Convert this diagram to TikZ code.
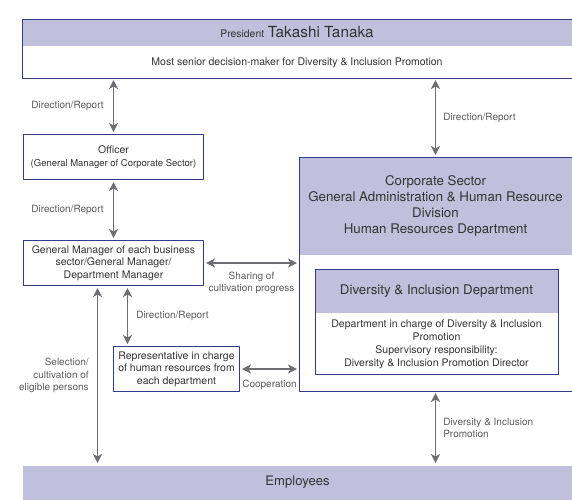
\documentclass[tikz,border=0pt]{standalone}
\usepackage{fontspec}
\setmainfont{TeX Gyre Heros}
\usetikzlibrary{arrows.meta,calc,positioning}
\definecolor{band}{HTML}{C0C0DC}
\definecolor{frame}{HTML}{2F3D8E}
\definecolor{arrowgray}{HTML}{6E6E72}
\definecolor{txt}{HTML}{333333}
\definecolor{lbltxt}{HTML}{5A5A5A}
\tikzset{
  box/.style={draw=frame, line width=1pt, fill=white, inner sep=0pt, anchor=north west,
    text=txt, font=\fontsize{10.5}{12.5}\selectfont, align=center},
  bandtext/.style={text=txt, font=\fontsize{13.3}{15.7}\selectfont, align=center, inner sep=0pt},
  lbl/.style={text=lbltxt, font=\fontsize{10}{12.5}\selectfont, inner sep=0pt},
  arr/.style={draw=arrowgray, line width=1.6pt,
    {Stealth[length=9pt,width=9pt,inset=2.5pt]}-{Stealth[length=9pt,width=9pt,inset=2.5pt]},
    shorten <=2pt, shorten >=2pt},
}
\begin{document}
\begin{tikzpicture}[x=1pt, y=-1pt, line join=round]
  \useasboundingbox (0,0) rectangle (572,499);
  % president
  \node[box, draw=none, minimum width=549pt, minimum height=58pt] (pres) at (22,19) {};
  \fill[band] (pres.north west) rectangle ($(pres.north east)+(0,27)$);
  \draw[frame, line width=1pt] (pres.north west) rectangle (pres.south east);
  \node[bandtext] (prestitle) at ($(pres.north)+(0,13.5)$)
    {{\fontsize{10.4}{12}\selectfont President} {\fontsize{15.3}{18}\selectfont Takashi Tanaka}};
  \node[bandtext, font=\fontsize{10.5}{12}\selectfont] (presnote) at ($(pres.south)+(0,-15.5)$)
    {Most senior decision-maker for Diversity \& Inclusion Promotion};
  % left column
  \node[box, minimum width=180pt, minimum height=45pt] (off) at (23,134)
    {Officer\\{\fontsize{9.5}{12}\selectfont(General Manager of Corporate Sector)}};
  \node[box, minimum width=180pt, minimum height=45pt] (gm) at (23,240)
    {General Manager of each business\\sector/General Manager/\\Department Manager};
  \node[box, minimum width=126pt, minimum height=45pt] (rep) at (113,346)
    {Representative in charge\\of human resources from\\each department};
  % corporate sector
  \node[box, draw=none, minimum width=272pt, minimum height=233pt] (corp) at (299,157) {};
  \fill[band] (corp.north west) rectangle ($(corp.north east)+(0,98)$);
  \draw[frame, line width=1pt] (corp.north west) rectangle (corp.south east);
  \node[bandtext] (corptitle) at ($(corp.north)+(0,49)$)
    {Corporate Sector\\General Administration \& Human Resource\\Division\\Human Resources Department};
  \node[box, draw=none, minimum width=242pt, minimum height=104pt] (dni) at (315,269) {};
  \fill[band] (dni.north west) rectangle ($(dni.north east)+(0,44)$);
  \draw[frame, line width=1pt] (dni.north west) rectangle (dni.south east);
  \node[bandtext] (dnititle) at ($(dni.north)+(0,22)$) {Diversity \& Inclusion Department};
  \node[bandtext, font=\fontsize{10.5}{13}\selectfont] (dninote) at ($(dni.south)+(0,-30)$)
    {Department in charge of Diversity \& Inclusion\\Promotion\\Supervisory responsibility:\\Diversity \& Inclusion Promotion Director};
  % employees
  \node[box, draw=none, fill=band, minimum width=550pt, minimum height=34pt, font=\fontsize{13.1}{15}\selectfont] (emp) at (22,465) {Employees};
  % connectors
  \draw[arr] (pres.south -| off.north) -- (off.north) node[lbl, midway, left=9pt] {Direction/Report};
  \draw[arr] (off.south) -- (gm.north) node[lbl, midway, left=9pt] {Direction/Report};
  \draw[arr] (pres.south -| corp.north) -- (corp.north) node[lbl, midway, right=7pt] {Direction/Report};
  \coordinate (selx) at ($(gm.south)+(-16,0)$);
  \draw[arr] (selx) -- (selx |- emp.north)
    node[lbl, midway, left=8pt, align=right] {Selection/\\cultivation of\\eligible persons};
  \coordinate (repx) at ($(gm.south)+(14,0)$);
  \draw[arr] (repx) -- (repx |- rep.north) node[lbl, midway, right=8pt] {Direction/Report};
  \draw[arr] (gm.east) -- (gm.east -| corp.west)
    node[lbl, midway, below=8pt, align=center] {Sharing of\\cultivation progress};
  \draw[arr] (rep.east) -- (rep.east -| corp.west) node[lbl, midway, below=10pt] {Cooperation};
  \draw[arr] (corp.south) -- (corp.south |- emp.north)
    node[lbl, midway, right=7pt, align=left] {Diversity \& Inclusion\\Promotion};
\end{tikzpicture}
\end{document}
